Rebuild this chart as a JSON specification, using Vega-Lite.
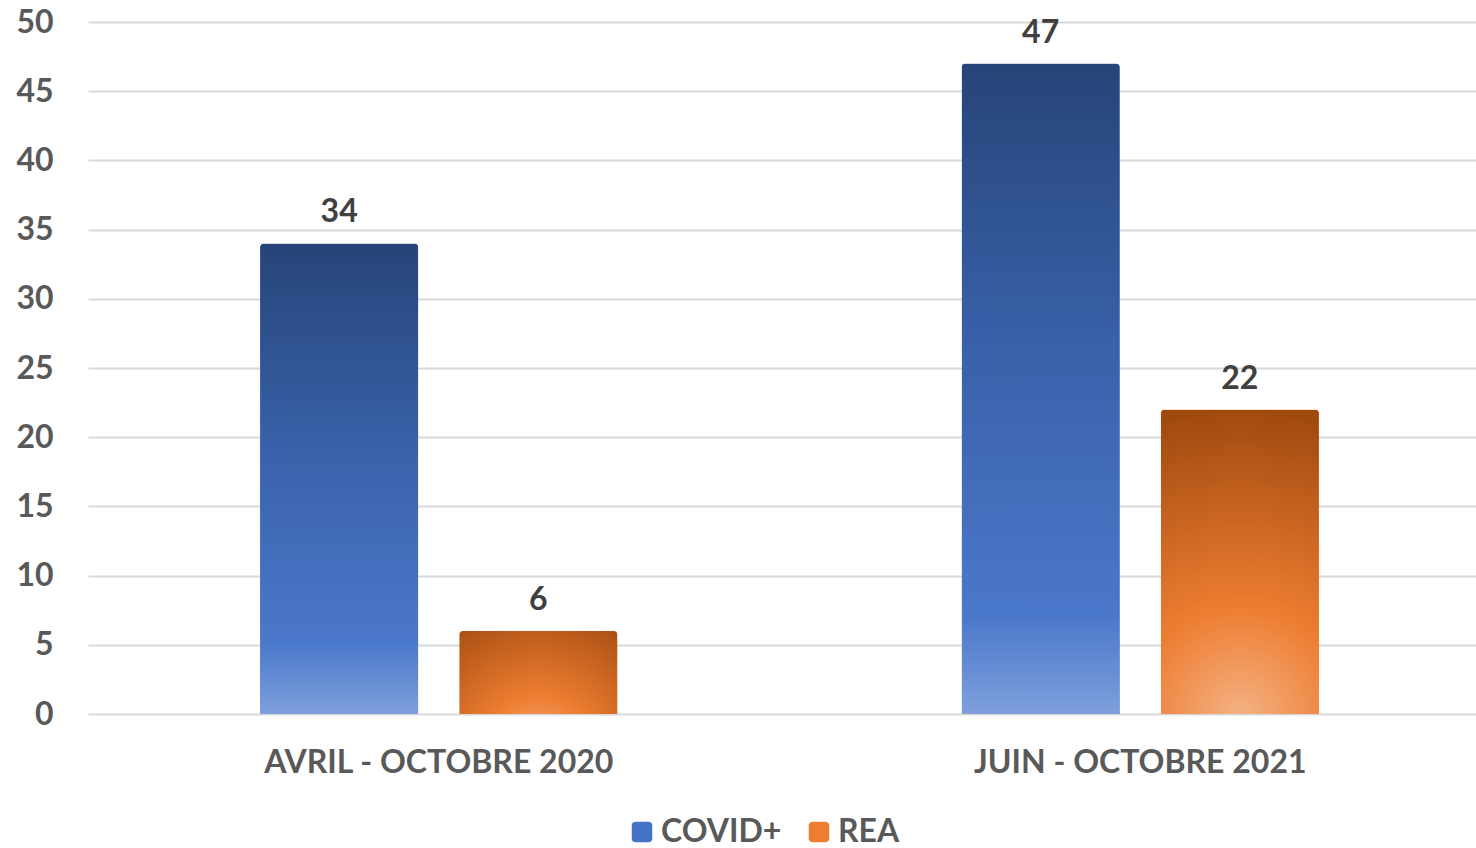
{
  "$schema": "https://vega.github.io/schema/vega-lite/v6.json",
  "width": 1388,
  "height": 692,
  "autosize": {"type": "none"},
  "padding": {"left": 88, "top": 22, "right": 0, "bottom": 134},
  "background": "white",
  "config": {
    "view": {"stroke": null},
    "font": "Lato",
    "axis": {"labelFont": "Lato", "labelFontWeight": "bold", "labelColor": "#595959"}
  },
  "data": {
    "values": [
      {"periode": "AVRIL - OCTOBRE 2020", "serie": "COVID+", "valeur": 34},
      {"periode": "AVRIL - OCTOBRE 2020", "serie": "REA", "valeur": 6},
      {"periode": "JUIN - OCTOBRE 2021", "serie": "COVID+", "valeur": 47},
      {"periode": "JUIN - OCTOBRE 2021", "serie": "REA", "valeur": 22}
    ]
  },
  "encoding": {
    "x": {
      "field": "periode", "type": "nominal", "sort": null,
      "scale": {"paddingInner": 0, "paddingOuter": 0, "range": [0, 1403]},
      "axis": {"title": null, "labelAngle": 0, "labelFontSize": 32, "labelPadding": 33, "labelLimit": 800, "ticks": false, "domain": false, "grid": false}
    },
    "xOffset": {
      "field": "serie", "type": "nominal",
      "scale": {"paddingInner": 0.206, "paddingOuter": 0.864}
    },
    "y": {
      "field": "valeur", "type": "quantitative",
      "scale": {"domain": [0, 50]},
      "axis": {"title": null, "values": [0,5,10,15,20,25,30,35,40,45,50], "labelFontSize": 32, "labelPadding": 35, "ticks": false, "domain": false, "gridColor": "#d9d9d9", "gridWidth": 2}
    }
  },
  "layer": [
    {
      "mark": {"type": "bar", "cornerRadiusTopLeft": 4, "cornerRadiusTopRight": 4},
      "encoding": {
        "color": {
          "field": "serie", "type": "nominal",
          "scale": {"domain": ["COVID+", "REA"], "range": ["#4472C4", "#ED7D31"]},
          "legend": {
            "title": null, "orient": "none", "legendX": 538, "legendY": 794, "direction": "horizontal",
            "symbolType": "M -0.6,-1 L 0.6,-1 Q 1,-1 1,-0.6 L 1,0.6 Q 1,1 0.6,1 L -0.6,1 Q -1,1 -1,0.6 L -1,-0.6 Q -1,-1 -0.6,-1 Z",
            "symbolSize": 420, "labelFontSize": 32, "labelFont": "Lato", "labelFontWeight": "bold",
            "labelColor": "#595959", "columnPadding": 21, "symbolStrokeWidth": 0, "labelOffset": 3, "labelLimit": 400
          }
        }
      }
    },
    {
      "transform": [{"filter": "datum.serie === 'COVID+'"}],
      "mark": {
        "type": "bar", "cornerRadiusTopLeft": 4, "cornerRadiusTopRight": 4,
        "fill": {"gradient": "linear", "x1": 0, "y1": 0, "x2": 0, "y2": 1,
          "stops": [
            {"offset": 0, "color": "#264478"},
            {"offset": 0.45, "color": "#3a62ab"},
            {"offset": 0.85, "color": "#4a78ca"},
            {"offset": 1, "color": "#7e9fdc"}
          ]}
      }
    },
    {
      "transform": [{"filter": "datum.serie === 'REA'"}],
      "mark": {
        "type": "bar", "cornerRadiusTopLeft": 4, "cornerRadiusTopRight": 4,
        "fill": {"gradient": "radial", "x1": 0.5, "y1": 1, "r1": 0, "x2": 0.5, "y2": 1, "r2": 1,
          "stops": [
            {"offset": 0, "color": "#f4b183"},
            {"offset": 0.35, "color": "#ed7d31"},
            {"offset": 1, "color": "#a0490f"}
          ]}
      }
    },
    {
      "mark": {"type": "text", "dy": -14, "fontSize": 32, "fontWeight": "bold", "color": "#404040", "baseline": "bottom", "font": "Lato"},
      "encoding": {"text": {"field": "valeur", "type": "quantitative"}}
    }
  ]
}
